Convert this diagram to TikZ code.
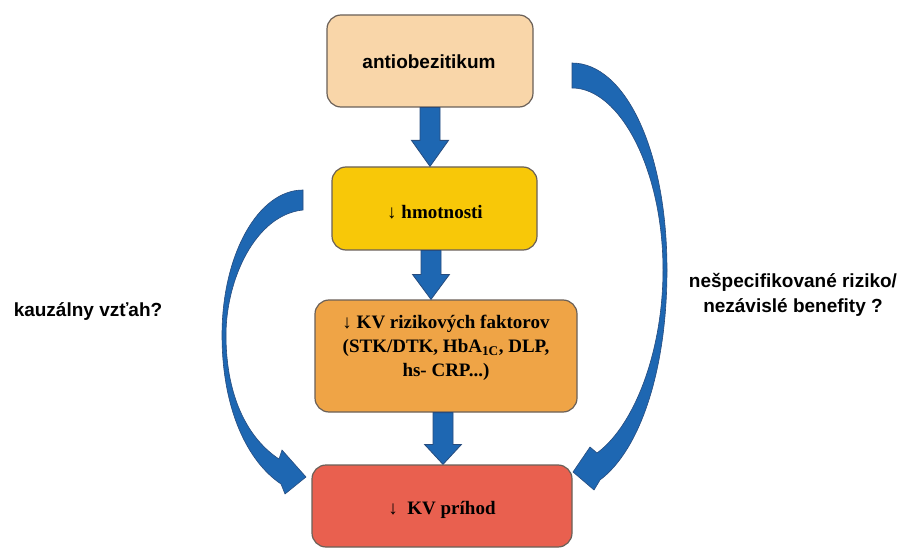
\documentclass[tikz,border=0pt]{standalone}
\usepackage{fontspec}
\setmainfont{Liberation Serif}
\setsansfont{Liberation Sans}
\usetikzlibrary{calc}
\definecolor{peach}{HTML}{F9D6A9}
\definecolor{gold}{HTML}{F8C808}
\definecolor{orng}{HTML}{EFA446}
\definecolor{redbox}{HTML}{E9604F}
\definecolor{boxline}{HTML}{6A6058}
\definecolor{arrblue}{HTML}{1E67B2}
\definecolor{arrline}{HTML}{274C7E}
\newcommand{\blockarrow}[4]{%
  \filldraw[barrow] let \p1=(#1), \p2=(#2), \p3=(#3,0) in
  (\x3-10pt,\y1) -- (\x3+10pt,\y1) -- (\x3+10pt,\y2+#4pt) -- (\x3+18.5pt,\y2+#4pt)
  -- (\x3,\y2) -- (\x3-18.5pt,\y2+#4pt) -- (\x3-10pt,\y2+#4pt) -- cycle;}
\begin{document}
\begin{tikzpicture}[x=1pt,y=-1pt,
  box/.style={draw=boxline, line width=1.2pt, rounded corners=14pt, inner sep=0pt},
  serlab/.style={font=\fontsize{19}{24}\selectfont\bfseries, align=center, inner sep=0pt},
  sanslab/.style={font=\fontsize{19}{25}\selectfont\sffamily\bfseries, align=center, inner sep=0pt},
  barrow/.style={fill=arrblue, draw=arrline, line width=0.8pt, line join=miter},
  carrow/.style={fill=arrblue, draw=arrline, line width=0.6pt}]
\useasboundingbox (0,0) rectangle (905,548);

% boxes
\node[box, fill=peach, minimum width=206pt, minimum height=92pt] (b1) at (430,61) {};
\node[box, fill=gold, minimum width=205pt, minimum height=83pt] (b2) at (434.5,208.5) {};
\node[box, fill=orng, minimum width=262pt, minimum height=112pt] (b3) at (446,356) {};
\node[box, fill=redbox, minimum width=260pt, minimum height=82pt] (b4) at (442,506) {};

% box texts
\node[sanslab] (t1) at (429,62) {antiobezitikum};
\node[serlab] (t2) at (435,212) {↓ hmotnosti};
\node[serlab] (t3) at (446,348) {↓ KV rizikových faktorov\\(STK/DTK, HbA\textsubscript{1C}, DLP,\\hs- CRP...)};
\node[serlab] (t4) at (442,510) {↓\ \ KV príhod};

% side labels
\node[sanslab] (l1) at (88,312) {kauzálny vzťah?};
\node[sanslab] (l2) at (793,295) {nešpecifikované riziko/\\nezávislé benefity ?};

% straight block arrows
\blockarrow{b1.south}{b2.north}{430}{26}
\blockarrow{b2.south}{b3.north}{431}{25}
\blockarrow{b3.south}{b4.north}{443}{20}

% left curved arrow
\filldraw[carrow] (303,190) .. controls (258,190) and (222,255) .. (222,335)
  .. controls (222,410) and (248,462) .. (281,484)
  -- (285,494) -- (306,477) -- (282,450) -- (279,459)
  .. controls (250,440) and (226,400) .. (226,335)
  .. controls (226,280) and (255,215) .. (303,210) -- cycle;

% right curved arrow
\filldraw[carrow] (572,63) .. controls (625,63) and (667,150) .. (667,270)
  .. controls (667,370) and (640,450) .. (600,480)
  -- (594,490) -- (573,472) -- (590,447) -- (597,453)
  .. controls (635,425) and (663,350) .. (663,270)
  .. controls (663,170) and (620,88) .. (572,88) -- cycle;
\end{tikzpicture}
\end{document}
